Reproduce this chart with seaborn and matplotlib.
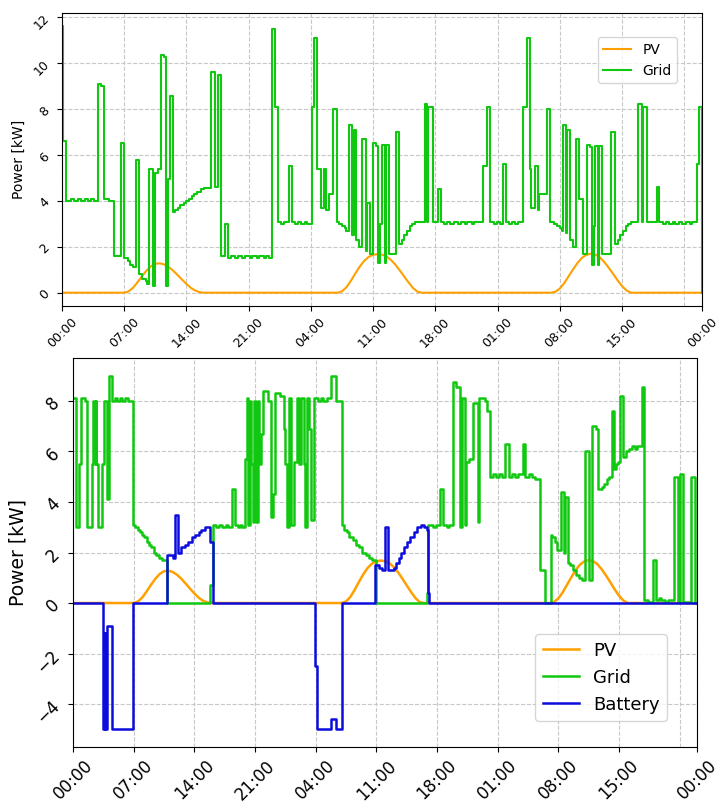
import numpy as np
import pandas as pd
import matplotlib
matplotlib.use("Agg")
import matplotlib.pyplot as plt
from matplotlib.ticker import FixedLocator, FuncFormatter
import seaborn as sns

# (hour, kW) breakpoints, drawn as steps
pv = [
    (0.0, 0.0), (7.0, 0.0), (7.5, 0.06), (8.0, 0.22), (8.5, 0.46), (9.0, 0.72), (9.5, 0.96),
    (10.0, 1.15), (10.5, 1.26), (11.0, 1.28), (11.5, 1.23), (12.0, 1.12), (12.5, 0.96),
    (13.0, 0.77), (13.5, 0.57), (14.0, 0.38), (14.5, 0.21), (15.0, 0.09), (15.5, 0.02),
    (16.0, 0.0), (31.0, 0.0), (31.5, 0.06), (32.0, 0.24), (32.5, 0.52), (33.0, 0.84),
    (33.5, 1.14), (34.0, 1.39), (34.5, 1.56), (35.0, 1.65), (35.5, 1.68), (36.0, 1.66),
    (36.5, 1.58), (37.0, 1.43), (37.5, 1.22), (38.0, 0.97), (38.5, 0.70), (39.0, 0.44),
    (39.5, 0.20), (40.0, 0.04), (40.5, 0.0), (55.0, 0.0), (55.5, 0.04), (56.0, 0.18),
    (56.5, 0.42), (57.0, 0.72), (57.5, 1.02), (58.0, 1.30), (58.5, 1.52), (59.0, 1.65),
    (59.5, 1.70), (60.0, 1.66), (60.5, 1.54), (61.0, 1.34), (61.5, 1.09), (62.0, 0.82),
    (62.5, 0.54), (63.0, 0.29), (63.5, 0.10), (64.0, 0.0), (72.0, 0.0),
]

grid_top = [
    (0.0, 11.6), (0.15, 6.6), (0.45, 4.0), (1.0, 4.1), (1.3, 4.0), (1.8, 4.1), (2.1, 4.0),
    (2.6, 4.1), (2.9, 4.0), (3.3, 4.1), (3.6, 4.0), (4.0, 4.1), (4.1, 9.1), (4.4, 9.0),
    (4.7, 4.1), (5.3, 4.0), (5.9, 1.6), (6.6, 6.5), (7.0, 1.5), (7.4, 1.4), (7.7, 1.2),
    (8.0, 1.1), (8.3, 5.8), (8.7, 0.8), (9.0, 0.6), (9.4, 0.5), (9.6, 0.4), (9.8, 5.4),
    (10.2, 0.3), (10.5, 5.2), (10.8, 5.4), (11.1, 10.35), (11.5, 10.25), (11.7, 0.3),
    (11.95, 4.95), (12.15, 8.55), (12.45, 3.5), (12.7, 3.6), (13.0, 3.7), (13.3, 3.8),
    (13.7, 3.9), (14.0, 4.0), (14.3, 4.1), (14.6, 4.2), (14.9, 4.3), (15.2, 4.4), (15.6, 4.5),
    (16.0, 4.55), (16.8, 9.6), (17.2, 4.6), (17.55, 9.5), (17.9, 1.6), (18.3, 3.0),
    (18.65, 1.5), (19.0, 1.6), (19.5, 1.5), (19.8, 1.6), (20.3, 1.5), (20.6, 1.6), (21.1, 1.5),
    (21.4, 1.6), (21.9, 1.5), (22.2, 1.6), (22.7, 1.5), (23.0, 1.6), (23.3, 1.5),
    (23.6, 11.5), (24.0, 8.1), (24.3, 3.1), (24.6, 3.0), (25.0, 3.1), (25.5, 5.5), (25.9, 3.1),
    (26.2, 3.0), (26.6, 3.1), (26.9, 3.0), (27.3, 3.1), (27.6, 3.0), (28.1, 8.1), (28.4, 11.1),
    (28.7, 5.4), (29.1, 3.7), (29.45, 5.4), (29.75, 3.6), (30.0, 4.3), (30.5, 8.0), (30.9, 3.1),
    (31.2, 3.0), (31.5, 2.9), (31.8, 2.8), (32.0, 2.7), (32.3, 7.3), (32.65, 2.5), (32.8, 7.1),
    (33.1, 2.3), (33.4, 2.0), (33.8, 6.7), (34.2, 1.8), (34.3, 3.9), (34.6, 1.7), (35.0, 6.5),
    (35.35, 6.4), (35.6, 1.3), (35.8, 3.0), (36.0, 6.45), (36.35, 1.3), (36.45, 6.45),
    (36.8, 1.7), (37.6, 7.0), (37.95, 2.1), (38.2, 2.3), (38.5, 2.5), (38.8, 2.7), (39.1, 2.9),
    (39.4, 3.0), (39.7, 3.1), (40.8, 8.2), (41.1, 3.1), (41.2, 8.1), (41.7, 3.1), (42.3, 4.5),
    (42.65, 3.1), (43.0, 3.0), (43.3, 3.1), (43.7, 3.0), (44.1, 3.1), (44.6, 3.0), (44.9, 3.1),
    (45.3, 3.0), (45.6, 3.1), (46.1, 3.0), (46.4, 3.1), (47.4, 5.5), (47.8, 8.1), (48.2, 3.1),
    (48.6, 3.0), (48.9, 3.1), (49.3, 3.0), (49.6, 5.6), (49.95, 3.1), (50.3, 3.0), (50.6, 3.1),
    (51.0, 3.0), (51.3, 3.1), (51.9, 8.1), (52.3, 11.1), (52.6, 5.4), (52.75, 3.7), (53.2, 5.5),
    (53.5, 3.6), (53.7, 4.3), (54.6, 8.0), (54.95, 3.1), (55.4, 3.0), (55.7, 2.9), (56.0, 2.8),
    (56.2, 2.7), (56.4, 7.3), (56.7, 2.6), (56.8, 7.1), (57.15, 2.3), (57.45, 2.0), (57.8, 6.7),
    (58.2, 4.1), (58.6, 1.7), (59.1, 6.45), (59.4, 6.35), (59.65, 1.2), (59.85, 2.9),
    (60.0, 6.4), (60.3, 1.2), (60.4, 6.4), (60.7, 1.7), (61.8, 7.0), (62.2, 2.1), (62.5, 2.3),
    (62.8, 2.5), (63.1, 2.7), (63.4, 2.9), (63.7, 3.0), (64.0, 3.1), (64.85, 8.2), (65.2, 3.1),
    (65.35, 8.1), (65.8, 3.1), (66.9, 4.6), (67.2, 3.1), (67.6, 3.0), (67.9, 3.1), (68.3, 3.0),
    (68.7, 3.1), (69.0, 3.0), (69.4, 3.1), (69.8, 3.0), (70.2, 3.1), (70.6, 3.0), (70.9, 3.1),
    (71.4, 5.6), (71.65, 8.1), (72.0, 0.0),
]

grid_bot = [
    (0.0, 8.1), (0.35, 3.0), (0.65, 5.5), (0.9, 8.1), (1.4, 8.0), (1.65, 3.0), (2.15, 5.5),
    (2.3, 8.0), (2.5, 5.5), (2.6, 8.0), (2.7, 5.5), (2.85, 3.0), (3.35, 5.5), (3.6, 8.0),
    (3.9, 4.1), (4.1, 9.0), (4.45, 8.0), (4.8, 8.1), (5.1, 8.0), (5.4, 8.1), (5.7, 8.0),
    (6.0, 8.1), (6.3, 8.0), (6.95, 3.1), (7.2, 3.0), (7.45, 2.9), (7.7, 2.8), (8.0, 2.7),
    (8.25, 2.6), (8.5, 2.4), (8.75, 2.3), (9.0, 2.2), (9.3, 2.0), (9.6, 1.9), (9.9, 1.8),
    (10.3, 1.7), (10.9, 0.0), (15.85, 0.7), (16.1, 3.1), (16.5, 3.0), (16.9, 3.1), (17.2, 3.0),
    (17.6, 3.1), (17.9, 3.0), (18.3, 4.5), (18.7, 3.1), (19.0, 3.0), (19.3, 3.1), (19.5, 3.0),
    (19.8, 5.7), (20.05, 8.1), (20.25, 3.1), (20.4, 8.0), (20.55, 5.5), (20.75, 3.2),
    (20.9, 8.0), (21.1, 3.2), (21.3, 8.0), (21.5, 5.5), (21.7, 6.7), (21.95, 8.4), (22.45, 8.0),
    (22.85, 3.4), (23.05, 4.3), (23.3, 8.3), (23.9, 8.2), (24.3, 6.9), (24.45, 5.5), (24.65, 3.0),
    (24.9, 8.1), (25.2, 3.1), (25.5, 5.6), (25.9, 8.1), (26.1, 5.5), (26.3, 8.1), (26.6, 5.5),
    (26.8, 3.0), (27.0, 8.1), (27.2, 6.9), (27.5, 3.3), (27.85, 8.1), (28.3, 8.0), (28.6, 8.1),
    (28.9, 8.0), (29.3, 8.1), (29.8, 9.0), (30.4, 8.0), (31.0, 3.1), (31.3, 2.9), (31.6, 2.8),
    (31.9, 2.6), (32.3, 2.5), (32.6, 2.3), (33.0, 2.2), (33.4, 2.0), (33.8, 1.9), (34.2, 1.8),
    (34.5, 1.7), (35.0, 0.0), (40.8, 0.4), (41.0, 3.1), (41.5, 3.0), (41.9, 3.1), (42.4, 4.5),
    (42.7, 3.1), (43.1, 3.0), (43.4, 3.1), (43.8, 8.75), (44.2, 8.55), (44.6, 3.0), (44.9, 8.1),
    (45.2, 3.1), (45.35, 5.6), (45.7, 5.7), (46.2, 7.9), (46.7, 3.2), (46.9, 8.1), (47.5, 8.0),
    (47.8, 7.6), (48.1, 5.0), (48.5, 5.1), (48.8, 5.0), (49.2, 5.1), (49.5, 5.0), (49.9, 6.3),
    (50.3, 5.0), (50.6, 5.1), (51.0, 5.0), (51.4, 5.1), (51.9, 6.3), (52.2, 5.0), (52.6, 5.1),
    (53.0, 5.0), (53.3, 4.9), (53.9, 1.3), (54.5, 0.0), (55.1, 2.7), (55.3, 2.6), (55.6, 2.4),
    (55.9, 2.1), (56.3, 4.4), (56.6, 2.0), (56.8, 4.2), (57.1, 1.6), (57.4, 1.5), (57.7, 1.3),
    (58.0, 1.1), (58.4, 1.0), (58.7, 0.9), (59.1, 6.0), (59.5, 0.9), (59.9, 7.0), (60.3, 6.9),
    (60.6, 4.5), (61.0, 4.6), (61.3, 4.7), (61.6, 4.9), (61.9, 5.0), (62.2, 7.6), (62.45, 5.3),
    (62.7, 5.5), (62.9, 5.6), (63.1, 8.2), (63.5, 5.8), (63.8, 6.0), (64.1, 6.1), (64.5, 6.2),
    (64.8, 6.1), (65.1, 6.2), (65.6, 8.55), (65.9, 0.1), (66.3, 0.05), (66.9, 1.7), (67.3, 0.1),
    (67.6, 0.2), (67.9, 0.1), (68.3, 0.05), (68.6, 0.1), (69.3, 5.0), (69.8, 0.05), (70.0, 5.1),
    (70.4, 0.05), (71.3, 5.0), (71.8, 0.0), (72.0, 0.0),
]

battery = [
    (0.0, 0.0), (3.5, -5.0), (3.65, -1.2), (3.75, -5.0), (3.9, -0.9), (4.45, -5.0), (6.95, 0.0),
    (10.9, 1.9), (11.5, 1.8), (11.8, 3.5), (12.15, 2.0), (12.5, 2.2), (12.9, 2.3), (13.3, 2.4),
    (13.7, 2.6), (14.1, 2.7), (14.5, 2.8), (14.8, 2.9), (15.2, 3.0), (15.8, 2.4), (16.1, 0.0),
    (27.9, -2.5), (28.2, -5.0), (29.8, -4.6), (30.4, -5.0), (31.0, 0.0), (34.9, 1.5),
    (35.3, 1.4), (35.6, 1.3), (36.0, 3.0), (36.4, 1.3), (37.0, 1.4), (37.3, 1.6), (37.6, 1.8),
    (37.9, 2.0), (38.2, 2.2), (38.5, 2.4), (38.9, 2.6), (39.3, 2.8), (39.7, 3.0), (40.1, 3.1),
    (40.5, 3.0), (40.8, 2.9), (41.0, 0.4), (41.1, 0.0), (72.0, 0.0),
]

tick_hours = [0, 7, 14, 21, 28, 35, 42, 49, 56, 63, 72]

c_pv = "#ffa000"
c_grid = "#10c810"
c_bat = "#0c0cdc"


def to_df(pairs):
    return pd.DataFrame(pairs, columns=["hour", "kW"])


def style_axis(ax, tick_size, label_size):
    ax.set_xlim(0, 72)
    ax.xaxis.set_major_locator(FixedLocator(tick_hours))
    ax.xaxis.set_minor_locator(FixedLocator([70]))
    ax.xaxis.set_major_formatter(FuncFormatter(lambda v, p: "%02d:00" % (int(round(v)) % 24)))
    ax.tick_params(axis="x", which="minor", length=0)
    ax.tick_params(axis="both", which="major", labelsize=tick_size, labelrotation=45)
    ax.grid(True, which="both", linestyle="--", color="#c8c8c8", linewidth=0.8)
    ax.set_axisbelow(True)
    ax.set_xlabel("")
    ax.set_ylabel("Power [kW]", fontsize=label_size)


fig = plt.figure(figsize=(7.17, 8.10), dpi=100)
ax1 = fig.add_axes([0.0865, 0.6222, 0.8926, 0.3617])
ax2 = fig.add_axes([0.1018, 0.0778, 0.8703, 0.4802])

# top panel: PV and grid only
sns.lineplot(data=to_df(pv), x="hour", y="kW", ax=ax1, color=c_pv, lw=1.5,
             label="PV", estimator=None, errorbar=None)
sns.lineplot(data=to_df(grid_top), x="hour", y="kW", ax=ax1, color=c_grid, lw=1.5,
             drawstyle="steps-post", label="Grid", estimator=None, errorbar=None)
style_axis(ax1, 9, 10)
ax1.legend(loc="upper right", bbox_to_anchor=(0.961, 0.918), borderaxespad=0,
           fontsize=10, framealpha=0.8)

# bottom panel: with battery
sns.lineplot(data=to_df(pv), x="hour", y="kW", ax=ax2, color=c_pv, lw=1.8,
             label="PV", estimator=None, errorbar=None)
sns.lineplot(data=to_df(grid_bot), x="hour", y="kW", ax=ax2, color=c_grid, lw=1.8,
             drawstyle="steps-post", label="Grid", estimator=None, errorbar=None)
sns.lineplot(data=to_df(battery), x="hour", y="kW", ax=ax2, color=c_bat, lw=1.8,
             drawstyle="steps-post", label="Battery", estimator=None, errorbar=None)
style_axis(ax2, 12, 13.5)
ax2.legend(loc="lower right", bbox_to_anchor=(0.952, 0.067), borderaxespad=0,
           fontsize=13, framealpha=0.8)

fig.savefig("out.png", dpi=100)
